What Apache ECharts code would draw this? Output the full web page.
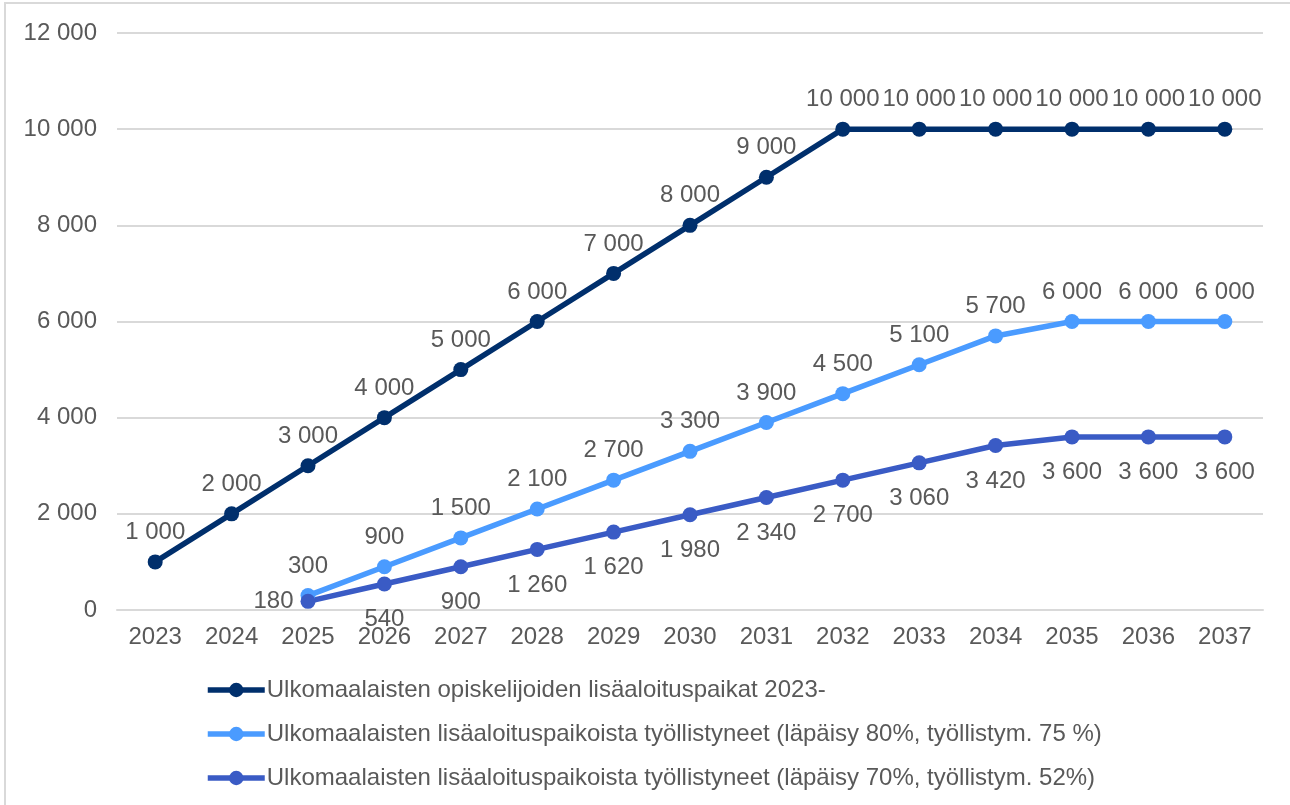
<!DOCTYPE html>
<html><head><meta charset="utf-8">
<script src="https://cdn.jsdelivr.net/npm/echarts@6/dist/echarts.min.js"></script>
<style>html,body{margin:0;padding:0;background:#fff}#c{width:1290px;height:805px}</style>
</head><body><div id="c"></div>
<script>
const years = ['2023','2024','2025','2026','2027','2028','2029','2030','2031','2032','2033','2034','2035','2036','2037'];
const seriesNames = [
  'Ulkomaalaisten opiskelijoiden lisäaloituspaikat 2023-',
  'Ulkomaalaisten lisäaloituspaikoista työllistyneet (läpäisy 80%, työllistym. 75 %)',
  'Ulkomaalaisten lisäaloituspaikoista työllistyneet (läpäisy 70%, työllistym. 52%)'
];
const places = [1000,2000,3000,4000,5000,6000,7000,8000,9000,10000,10000,10000,10000,10000,10000];
const employed80 = [null,null,300,900,1500,2100,2700,3300,3900,4500,5100,5700,6000,6000,6000];
const employed70 = [null,null,180,540,900,1260,1620,1980,2340,2700,3060,3420,3600,3600,3600];
const colors = ['#002F6C','#4A9BFF','#3A5BC5'];

const fmt = v => String(v).replace(/\B(?=(\d{3})+(?!\d))/g, ' ');
const txt = '#595959';
const FONT = 'Liberation Sans, Arial, sans-serif';
const FS = 24;

function mk(name, data, color, pos, dist) {
  return {
    name, type: 'line', data, color,
    symbol: 'circle', symbolSize: 15,
    lineStyle: { width: 5.5, color },
    itemStyle: { color },
    connectNulls: false,
    label: {
      show: true, position: pos, distance: dist,
      color: txt, fontSize: FS, fontFamily: FONT,
      formatter: p => fmt(Array.isArray(p.value) ? p.value[1] : p.value)
    },
    z: 3
  };
}
const s3 = mk(seriesNames[2], employed70.map((v,i) => i===2 ? {value:v, label:{position:'left', distance:7}} : v), colors[2], 'bottom', 16);

const chart = echarts.init(document.getElementById('c'));
chart.setOption({
  animation: false,
  textStyle: { fontFamily: FONT },
  graphic: [{ type: 'rect', shape: { x: 5, y: 3, width: 1320, height: 840 }, style: { fill: 'none', stroke: '#D9D9D9', lineWidth: 2 }, silent: true, z: -10 }],
  grid: { left: 117, right: 27, top: 33, bottom: 195, containLabel: false },
  xAxis: {
    type: 'category', data: years, boundaryGap: true,
    axisLine: { show: true, lineStyle: { color: '#D9D9D9', width: 2 } },
    axisTick: { show: false },
    axisLabel: { color: txt, fontSize: FS, fontFamily: FONT, margin: 15 }
  },
  yAxis: {
    type: 'value', min: 0, max: 12000, interval: 2000,
    axisLine: { show: false }, axisTick: { show: false },
    splitLine: { lineStyle: { color: '#D9D9D9', width: 2 } },
    axisLabel: { color: txt, fontSize: FS, fontFamily: FONT, margin: 20, formatter: v => fmt(v) }
  },
  legend: {
    orient: 'vertical', left: 205, top: 678, itemGap: 20, padding: 0,
    itemWidth: 57, itemHeight: 18,
    lineStyle: { width: 5.5 },
    textStyle: { color: txt, fontSize: FS, fontFamily: FONT, padding: [0,0,0,-3] },
    data: seriesNames
  },
  series: [
    mk(seriesNames[0], places, colors[0], 'top', 10),
    mk(seriesNames[1], employed80, colors[1], 'top', 10),
    s3
  ]
});
</script></body></html>
